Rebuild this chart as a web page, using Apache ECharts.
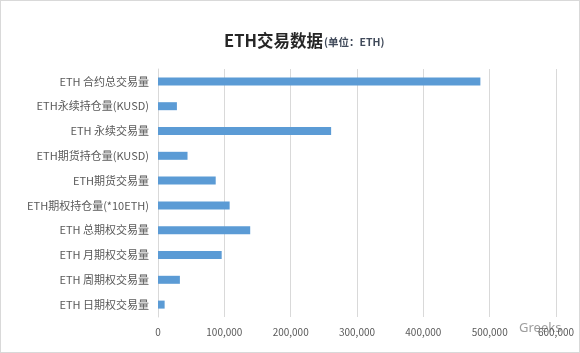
<!DOCTYPE html>
<html>
<head>
<meta charset="utf-8">
<script src="https://cdn.jsdelivr.net/npm/echarts@6/dist/echarts.min.js"></script>
<style>
  html, body { margin: 0; padding: 0; background: #fff; }
  #chart { width: 580px; height: 353px; box-sizing: border-box; border: 1px solid #d9d9d9; }
</style>
</head>
<body>
<div id="chart"></div>
<script>
// categories, bottom to top as ECharts draws them
const categories = [
    'ETH 日期权交易量',
    'ETH 周期权交易量',
    'ETH 月期权交易量',
    'ETH 总期权交易量',
    'ETH期权持仓量(*10ETH)',
    'ETH期货交易量',
    'ETH期货持仓量(KUSD)',
    'ETH 永续交易量',
    'ETH永续持仓量(KUSD)',
    'ETH 合约总交易量'
];
const values = [10000, 33000, 96000, 139000, 108000, 87000, 44500, 261000, 28500, 486000];
const xTicks = [0, 100000, 200000, 300000, 400000, 500000, 600000];

const textColor = '#595959';
const barColor = '#5b9bd5';

const chart = echarts.init(document.getElementById('chart'));
chart.setOption({
    animation: false,
    title: {
        text: '{main|ETH交易数据}{unit|(单位：ETH)}',
        left: 218,
        top: 26,
        textStyle: {
            rich: {
                main: {
                    fontFamily: 'Noto Sans CJK SC',
                    fontWeight: 'bold',
                    fontSize: 16.5,
                    color: '#262626'
                },
                unit: {
                    fontFamily: 'Noto Sans CJK SC',
                    fontSize: 10.5,
                    color: '#404a5a',
                    padding: [4, 0, 0, 1]
                }
            }
        }
    },
    grid: {
        left: 157,
        right: 23,
        top: 68,
        bottom: 35,
        containLabel: false
    },
    xAxis: {
        type: 'value',
        min: xTicks[0],
        max: xTicks[xTicks.length - 1],
        interval: 100000,
        axisLine: { show: false },
        axisTick: { show: false },
        splitLine: { lineStyle: { color: '#d9d9d9', width: 1 } },
        axisLabel: {
            color: textColor,
            fontSize: 10,
            fontFamily: 'Noto Sans CJK SC',
            margin: 10,
            formatter: function (v) { return v.toLocaleString('en-US'); }
        }
    },
    yAxis: {
        type: 'category',
        data: categories,
        axisLine: { show: true, lineStyle: { color: '#d9d9d9' } },
        axisTick: { show: false },
        axisLabel: {
            color: textColor,
            fontSize: 11,
            fontFamily: 'Noto Sans CJK SC',
            margin: 9
        }
    },
    series: [{
        type: 'bar',
        data: values,
        barWidth: 8,
        itemStyle: { color: barColor }
    }],
    graphic: [{
        type: 'text',
        left: 518,
        top: 321,
        style: {
            text: 'Greeks',
            fill: '#8c8c8c',
            font: '13px Noto Sans',
            opacity: 0.85
        }
    }]
});
</script>
</body>
</html>
